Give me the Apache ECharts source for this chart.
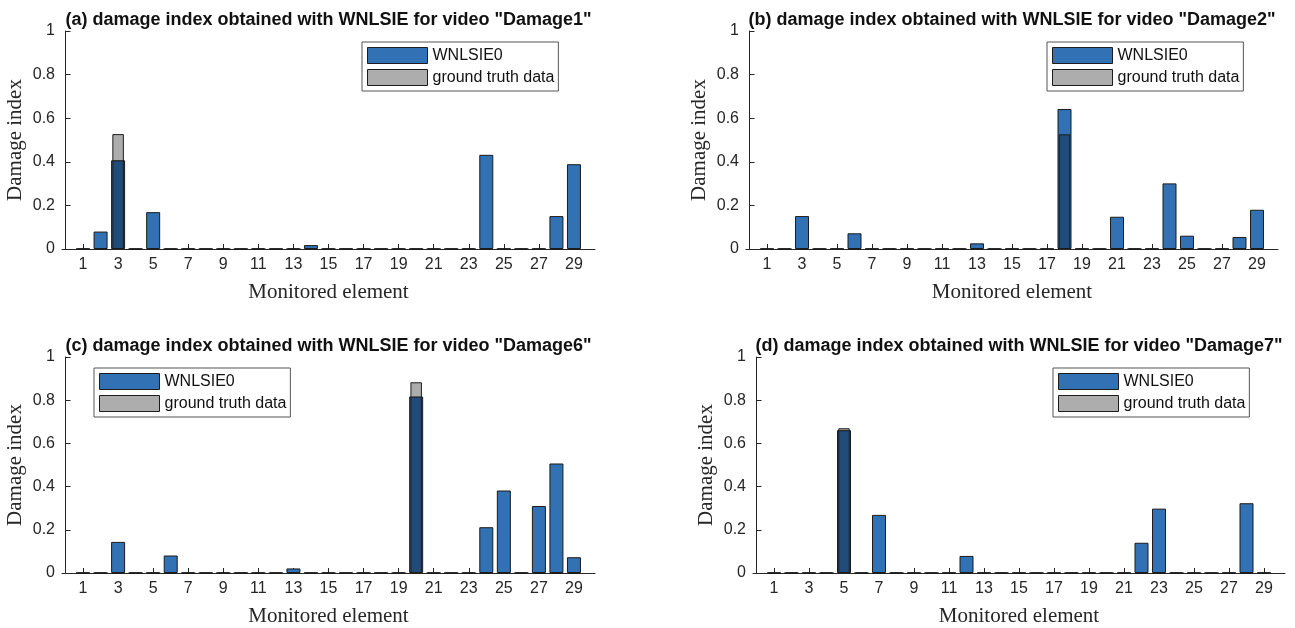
<!DOCTYPE html>
<html>
<head>
<meta charset="utf-8">
<script src="https://cdn.jsdelivr.net/npm/echarts@6/dist/echarts.min.js"></script>
<style>
  body { margin: 0; background: #fff; }
  #chart { width: 1295px; height: 628px; }
</style>
</head>
<body>
<div id="chart"></div>
<script>
// monitored elements 1..29, labels only on odd ones
const elements = [1, 2, 3, 4, 5, 6, 7, 8, 9, 10, 11, 12, 13, 14, 15, 16, 17, 18, 19, 20, 21, 22, 23, 24, 25, 26, 27, 28, 29]
const xTicks = [1, 3, 5, 7, 9, 11, 13, 15, 17, 19, 21, 23, 25, 27, 29]

// damage index per element (WNLSIE0) and ground truth, one pair per video
const damage1 = [0, 0.08, 0.407, 0, 0.169, 0, 0, 0, 0, 0,
  0, 0, 0, 0.018, 0, 0, 0, 0, 0, 0,
  0, 0, 0, 0.432, 0, 0, 0, 0.151, 0.389]
const truth1 = [0, 0, 0.527, 0, 0, 0, 0, 0, 0, 0,
  0, 0, 0, 0, 0, 0, 0, 0, 0, 0,
  0, 0, 0, 0, 0, 0, 0, 0, 0]

const damage2 = [0, 0, 0.151, 0, 0, 0.072, 0, 0, 0, 0,
  0, 0, 0.026, 0, 0, 0, 0, 0.642, 0, 0,
  0.148, 0, 0, 0.301, 0.061, 0, 0, 0.055, 0.18]
const truth2 = [0, 0, 0, 0, 0, 0, 0, 0, 0, 0,
  0, 0, 0, 0, 0, 0, 0, 0.526, 0, 0,
  0, 0, 0, 0, 0, 0, 0, 0, 0]

const damage6 = [0, 0, 0.144, 0, 0, 0.081, 0, 0, 0, 0,
  0, 0, 0.021, 0, 0, 0, 0, 0, 0, 0.817,
  0, 0, 0, 0.212, 0.382, 0, 0.31, 0.507, 0.073]
const truth6 = [0, 0, 0, 0, 0, 0, 0, 0, 0, 0,
  0, 0, 0, 0, 0, 0, 0, 0, 0, 0.883,
  0, 0, 0, 0, 0, 0, 0, 0, 0]

const damage7 = [0, 0, 0, 0, 0.661, 0, 0.269, 0, 0, 0,
  0, 0.079, 0, 0, 0, 0, 0, 0, 0, 0,
  0, 0.14, 0.298, 0, 0, 0, 0, 0.323, 0]
const truth7 = [0, 0, 0, 0, 0.67, 0, 0, 0, 0, 0,
  0, 0, 0, 0, 0, 0, 0, 0, 0, 0,
  0, 0, 0, 0, 0, 0, 0, 0, 0]

const titles = [
  '(a) damage index obtained with WNLSIE for video "Damage1"',
  '(b) damage index obtained with WNLSIE for video "Damage2"',
  '(c) damage index obtained with WNLSIE for video "Damage6"',
  '(d) damage index obtained with WNLSIE for video "Damage7"'
]
const estimates = [damage1, damage2, damage6, damage7]
const truths = [truth1, truth2, truth6, truth7]

// panel layout (px)
const grids = [
  { left: 62, top: 31, width: 533, height: 218 },
  { left: 746, top: 31, width: 532, height: 218 },
  { left: 62, top: 357, width: 533, height: 218 },
  { left: 753, top: 357, width: 532, height: 218 }
]
const legendPos = [
  { left: 362, top: 42 },
  { left: 1047, top: 42 },
  { left: 94, top: 368 },
  { left: 1053, top: 368 }
]

const axisColor = '#262626'
const sans = 'Liberation Sans'
const serif = 'Liberation Serif'

const toPairs = (vals) => elements.map((e, i) => [e, vals[i]])

const options = {
  animation: false,
  title: grids.map((g, i) => ({
    text: titles[i],
    left: g.left + g.width / 2,
    top: g.top - 20,
    textAlign: 'center',
    padding: 0,
    textStyle: { fontFamily: sans, fontWeight: 'bold', fontSize: 18, color: '#111' }
  })),
  legend: legendPos.map((p) => ({
    left: p.left,
    top: p.top,
    orient: 'vertical',
    data: ['WNLSIE0', 'ground truth data'],
    icon: 'rect',
    itemWidth: 60,
    itemHeight: 16,
    itemGap: 5,
    padding: [5, 4, 5, 5],
    borderColor: '#555',
    borderWidth: 1,
    selectedMode: false,
    itemStyle: { borderWidth: 1 },
    textStyle: { fontFamily: sans, fontSize: 16, color: '#111' }
  })),
  grid: grids,
  xAxis: [],
  yAxis: [],
  series: []
}

grids.forEach((g, i) => {
  options.xAxis.push({
    type: 'value',
    gridIndex: i,
    min: -0.2,
    max: 30.2,
    name: 'Monitored element',
    nameLocation: 'middle',
    nameGap: 33,
    nameTextStyle: { fontFamily: serif, fontSize: 21, color: axisColor },
    splitLine: { show: false },
    axisLine: { onZero: false, lineStyle: { color: axisColor, width: 1 } },
    axisTick: { inside: true, length: 5, customValues: xTicks, lineStyle: { color: axisColor } },
    axisLabel: { customValues: xTicks, margin: 8, fontFamily: sans, fontSize: 16, color: axisColor }
  })
  options.yAxis.push({
    type: 'value',
    gridIndex: i,
    min: 0,
    max: 1,
    interval: 0.2,
    name: 'Damage index',
    nameLocation: 'middle',
    nameGap: 36,
    nameTextStyle: { fontFamily: serif, fontSize: 21, color: axisColor },
    splitLine: { show: false },
    axisLine: { show: true, lineStyle: { color: axisColor, width: 1 } },
    axisTick: { show: true, inside: true, length: 5, lineStyle: { color: axisColor } },
    axisLabel: { margin: 7, fontFamily: sans, fontSize: 16, color: axisColor }
  })
})
// hidden twin x axes so the ground truth bars centre on their own
grids.forEach((g, i) => {
  options.xAxis.push({ type: 'value', gridIndex: i, min: -0.2, max: 30.2, show: false })
})

grids.forEach((g, i) => {
  options.series.push({
    name: 'WNLSIE0',
    type: 'bar',
    xAxisIndex: i,
    yAxisIndex: i,
    barWidth: 14,
    data: toPairs(estimates[i]),
    itemStyle: { color: '#3171b4', borderColor: '#1c1c1c', borderWidth: 1 }
  })
  options.series.push({
    name: 'ground truth data',
    type: 'bar',
    xAxisIndex: 4 + i,
    yAxisIndex: i,
    barWidth: 11.5,
    data: toPairs(truths[i]),
    itemStyle: { color: 'rgba(0,0,0,0.32)', borderColor: '#1c1c1c', borderWidth: 1 }
  })
})

const chart = echarts.init(document.getElementById('chart'))
chart.setOption(options)
</script>
</body>
</html>
